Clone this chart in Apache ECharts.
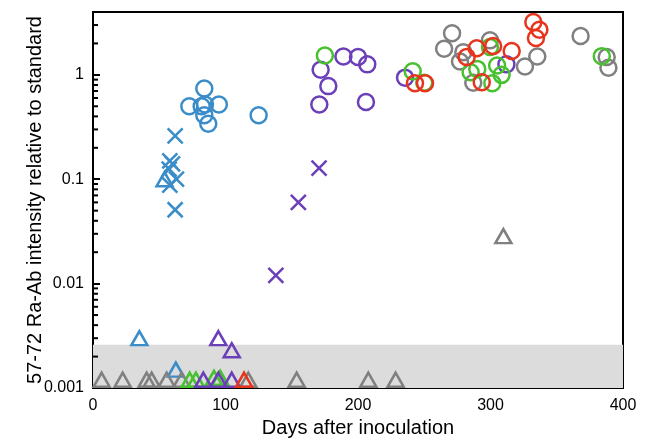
<!DOCTYPE html>
<html>
<head>
<meta charset="utf-8">
<script src="https://cdn.jsdelivr.net/npm/echarts@6/dist/echarts.min.js"></script>
<style>
  html, body { margin: 0; padding: 0; background: #fff; }
  #chart { width: 651px; height: 440px; }
</style>
</head>
<body>
<div id="chart"></div>
<script>
  // [days after inoculation, intensity relative to standard]
  var blueCircles = [[72.7, 0.50], [84, 0.74], [82, 0.50], [84.5, 0.52], [95, 0.52], [84, 0.41], [87, 0.34], [125, 0.41]];
  var blueCrosses = [[62, 0.26], [58, 0.15], [60, 0.14], [57.5, 0.125], [63, 0.10], [58, 0.088], [62, 0.051]];
  var blueTriangles = [[54, 0.10], [35, 0.0030], [62.5, 0.0015]];

  var purpleCircles = [[171.8, 1.12], [177.6, 0.78], [170.8, 0.52], [189, 1.5], [200, 1.48], [207, 1.26], [206, 0.55], [235.5, 0.94], [312, 1.26]];
  var purpleCrosses = [[138, 0.012], [155, 0.060], [170.6, 0.128]];
  var purpleTriangles = [[94.6, 0.0030], [104.7, 0.0023], [83.3, 0.0012], [94.6, 0.0012], [104.7, 0.0012]];

  var grayCircles = [[271, 2.5], [265, 1.78], [279.5, 1.65], [277, 1.34], [287, 0.84], [299.6, 2.14], [326, 1.2], [335.3, 1.5], [368, 2.36], [387.7, 1.48], [389, 1.17]];
  var grayTriangles = [[6.5, 0.0012], [22.4, 0.0012], [40.5, 0.0012], [44.3, 0.0012], [55.6, 0.0012], [66.9, 0.0012], [117.2, 0.0012], [153.7, 0.0012], [207.8, 0.0012], [228.4, 0.0012], [309.7, 0.0285]];

  var greenCircles = [[175, 1.53], [241.3, 1.08], [250, 0.84], [285, 1.06], [290, 1.14], [301.4, 0.83], [305, 1.23], [308.4, 1.0], [299.6, 1.85], [384, 1.51]];
  var greenTriangles = [[73, 0.0012], [77.7, 0.0012], [91.3, 0.00125], [96, 0.00125]];

  var redCircles = [[243, 0.83], [250.6, 0.83], [282, 1.48], [289.6, 1.8], [302, 1.89], [316, 1.69], [293.4, 0.85], [332.3, 3.2], [336.9, 2.7], [334.3, 2.25]];
  var redTriangles = [[114, 0.0012]];

  var lodBand = [0.001, 0.0026];
  var xTicks = [0, 100, 200, 300, 400];
  var yDecades = [0.001, 0.01, 0.1, 1];

  var BLUE = '#3a8dc9', PURPLE = '#6b3fb8', GREEN = '#47c12f', RED = '#e8341c', GRAY = '#808080';
  var CROSS = 'path://M0,0L16,16M16,0L0,16';

  // minor log ticks 2..9 per decade, up to the axis max
  var minorTicks = [];
  yDecades.forEach(function (d) {
    for (var m = 2; m <= 9; m++) {
      if (m * d <= 4) minorTicks.push([0, +(m * d).toPrecision(2)]);
    }
  });

  function marks(data, color, kind) {
    return {
      type: 'scatter',
      data: data,
      symbol: kind === 'circle' ? 'circle' : kind === 'cross' ? CROSS : 'triangle',
      symbolSize: kind === 'circle' ? 16 : kind === 'cross' ? 15 : [16, 14],
      itemStyle: { color: 'rgba(0,0,0,0)', borderColor: color, borderWidth: 2.5, opacity: 1 },
      emphasis: { disabled: true },
      silent: true
    };
  }

  var chart = echarts.init(document.getElementById('chart'));

  var option = {
    animation: false,
    grid: {
      left: 93, right: 28, top: 12, bottom: 52,
      containLabel: false,
      outerBoundsMode: 'none',
      show: true,
      borderColor: '#000',
      borderWidth: 2
    },
    xAxis: {
      type: 'value',
      min: xTicks[0],
      max: xTicks[xTicks.length - 1],
      interval: 100,
      name: 'Days after inoculation',
      nameLocation: 'middle',
      nameGap: 28,
      nameTextStyle: { fontFamily: 'Liberation Sans', fontSize: 20, color: '#000' },
      axisLine: { show: true, lineStyle: { color: '#000', width: 2 } },
      axisTick: { show: true, inside: true, length: 7, lineStyle: { color: '#000', width: 2 } },
      minorTick: { show: true, splitNumber: 2, length: 4, lineStyle: { color: '#000', width: 2 } },
      axisLabel: { fontFamily: 'Liberation Sans', fontSize: 16, color: '#000', margin: 10 },
      splitLine: { show: false }
    },
    yAxis: {
      type: 'log',
      logBase: 10,
      min: 0.001,
      max: 4,
      name: '57-72 Ra-Ab intensity relative to standard',
      nameLocation: 'middle',
      nameGap: 48,
      nameMoveOverlap: false,
      nameTextStyle: { fontFamily: 'Liberation Sans', fontSize: 20, color: '#000' },
      axisLine: { show: true, lineStyle: { color: '#000', width: 2 } },
      axisTick: { show: true, inside: true, length: 7, lineStyle: { color: '#000', width: 2 } },
      axisLabel: {
        fontFamily: 'Liberation Sans', fontSize: 16, color: '#000', margin: 9,
        showMaxLabel: false,
        formatter: function (v) {
          var l = Math.log10(v);
          return Math.abs(l - Math.round(l)) < 1e-6 ? String(+v.toPrecision(1)) : '';
        }
      },
      splitLine: { show: false }
    },
    series: [
      {
        type: 'scatter',
        data: [],
        silent: true,
        z: 0,
        markArea: {
          silent: true,
          itemStyle: { color: '#dcdcdc' },
          data: [[{ yAxis: lodBand[0] }, { yAxis: lodBand[1] }]]
        }
      },
      {
        // log-style minor ticks on the left axis
        type: 'custom',
        data: minorTicks,
        silent: true,
        clip: false,
        z: 10,
        renderItem: function (params, api) {
          var p = api.coord([0, api.value(1)]);
          return {
            type: 'line',
            shape: { x1: p[0], y1: p[1], x2: p[0] + 5, y2: p[1] },
            style: { stroke: '#000', lineWidth: 2 }
          };
        }
      },
      marks(blueCircles, BLUE, 'circle'),
      marks(blueCrosses, BLUE, 'cross'),
      marks(blueTriangles, BLUE, 'triangle'),
      marks(purpleCircles, PURPLE, 'circle'),
      marks(purpleCrosses, PURPLE, 'cross'),
      marks(grayTriangles, GRAY, 'triangle'),
      marks(greenTriangles, GREEN, 'triangle'),
      marks(purpleTriangles, PURPLE, 'triangle'),
      marks(redTriangles, RED, 'triangle'),
      marks(grayCircles, GRAY, 'circle'),
      marks(greenCircles, GREEN, 'circle'),
      marks(redCircles, RED, 'circle')
    ]
  };

  chart.setOption(option);
</script>
</body>
</html>
